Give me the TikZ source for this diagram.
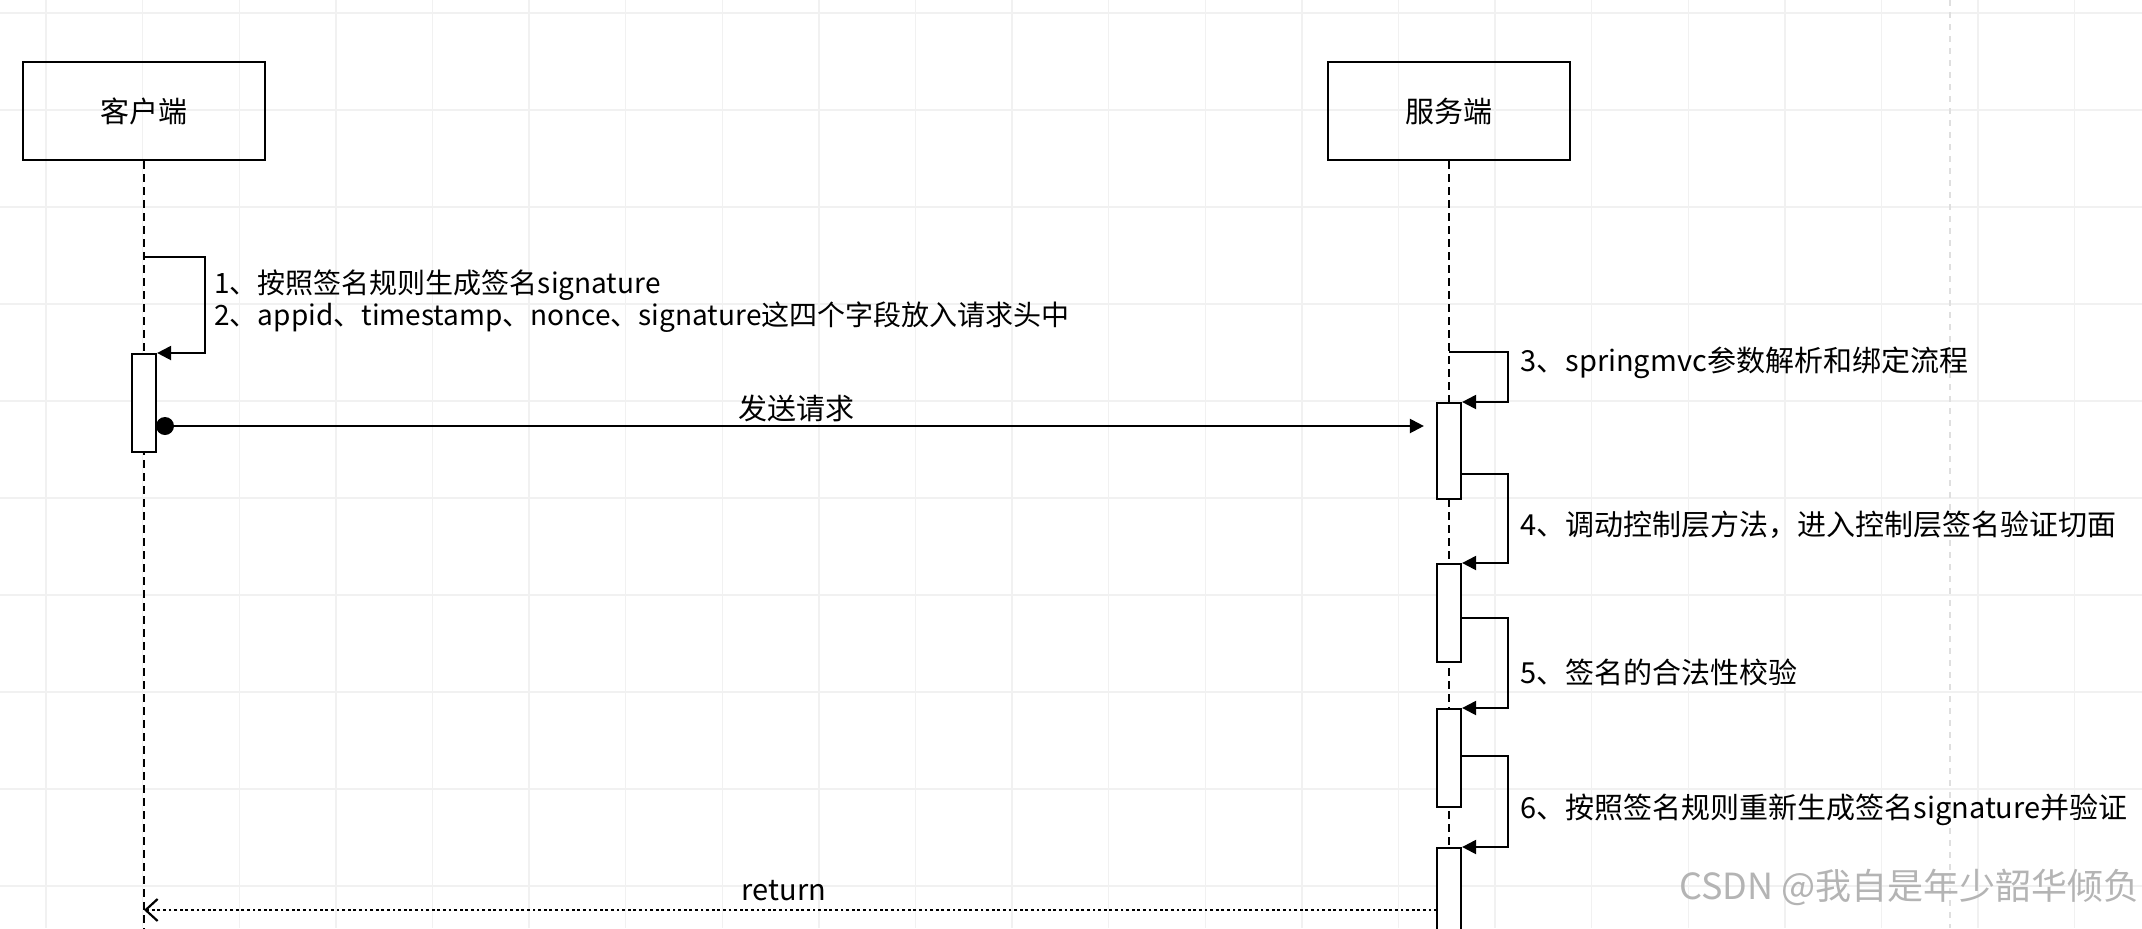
\documentclass[tikz,border=0pt]{standalone}
\usepackage{fontspec}
\setmainfont{Noto Sans CJK SC}
\usetikzlibrary{arrows.meta}
\definecolor{gridc}{HTML}{F1F1F1}
\definecolor{wm}{HTML}{B4B4B4}
\begin{document}
\begin{tikzpicture}[x=0.5pt,y=-0.5pt,
  actorbox/.style={draw, line width=1.2pt, minimum width=121pt, minimum height=49pt, inner sep=0pt, font=\fontsize{14.5}{17}\selectfont},
  actbar/.style={draw, fill=white, line width=1.1pt, minimum width=12pt, inner sep=0pt, anchor=north},
  life/.style={line width=0.9pt, dash pattern=on 4pt off 2.5pt},
  msg/.style={line width=1.1pt, -{Triangle[length=7pt,width=7pt]}},
  ret/.style={line width=1.4pt, dash pattern=on 1.4pt off 1.4pt, -{Straight Barb[length=6pt,width=11pt,line width=1.1pt]}},
  lbl/.style={inner sep=0pt, font=\fontsize{14.5}{17}\selectfont},
  note/.style={lbl, anchor=west},
  note2/.style={inner sep=0pt, anchor=west, font=\fontsize{14}{16}\selectfont}
]
\fill[white] (0,0) rectangle (2142,928);
\useasboundingbox (0,0) rectangle (2142,928);
% faint background grid
\foreach \yy in {13,110,207,304,401,498,595,692,789,886}
  \draw[gridc, line width=0.7pt] (0,\yy) -- (2142,\yy);
\foreach \k in {0,...,21}
  \draw[gridc, line width=0.7pt] ({46+96.6*\k},0) -- ({46+96.6*\k},928);
\draw[gray!25, line width=0.6pt, dash pattern=on 3pt off 3pt] (1950,0) -- (1950,928);

% actors
\node[actorbox] (cli) at (144,111) {客户端};
\node[actorbox] (srv) at (1449,111) {服务端};

% lifelines
\coordinate (cbot) at (144,940);
\coordinate (sbot) at (1449,940);
\draw[life] (cli.south) -- (cbot);
\draw[life] (srv.south) -- (sbot);

% activations
\node[actbar, minimum height=49pt] (ca) at (144,353) {};
\node[actbar, minimum height=48pt] (sa) at (1449,402) {};
\node[actbar, minimum height=49pt] (sb) at (1449,563) {};
\node[actbar, minimum height=49pt] (sc) at (1449,708) {};
\node[actbar, minimum height=60pt] (sd) at (1449,847) {};

% self messages
\coordinate (l1) at (144,257);
\draw[msg] (l1) -- (205,257) |- (ca.north east);
\node[note2] (t1) at (214,285) {1、按照签名规则生成签名signature};
\node[note2] (t2) at (214,317) {2、appid、timestamp、nonce、signature这四个字段放入请求头中};

\coordinate (l3) at (1449,352);
\draw[msg] (l3) -- (1508,352) |- (sa.north east);
\node[note] (t3) at (1520,363) {3、springmvc参数解析和绑定流程};

\coordinate (l4) at (1461,474);
\draw[msg] (l4) -- (1508,474) |- (sb.north east);
\node[note] (t4) at (1520,525) {4、调动控制层方法，进入控制层签名验证切面};

\coordinate (l5) at (1461,618);
\draw[msg] (l5) -- (1508,618) |- (sc.north east);
\node[note] (t5) at (1520,672) {5、签名的合法性校验};

\coordinate (l6) at (1461,756);
\draw[msg] (l6) -- (1508,756) |- (sd.north east);
\node[note] (t6) at (1520,810) {6、按照签名规则重新生成签名signature并验证};

% request message
\node[circle, fill=black, inner sep=0pt, minimum size=9pt] (dot) at (165,426) {};
\draw[msg, shorten >=6pt] (dot.center) -- (sa.west |- dot.center);
\node[lbl] (m1) at (796,408) {发送请求};

% return
\coordinate (r1) at (1437,910);
\draw[ret] (r1) -- (cli.south |- r1);
\node[lbl] (m2) at (784,891) {return};

% watermark
\node[inner sep=0pt, anchor=east, text=wm, font=\fontsize{18}{20}\selectfont] (wmk) at (2140,887) {CSDN @我自是年少韶华倾负};
\end{tikzpicture}
\end{document}
